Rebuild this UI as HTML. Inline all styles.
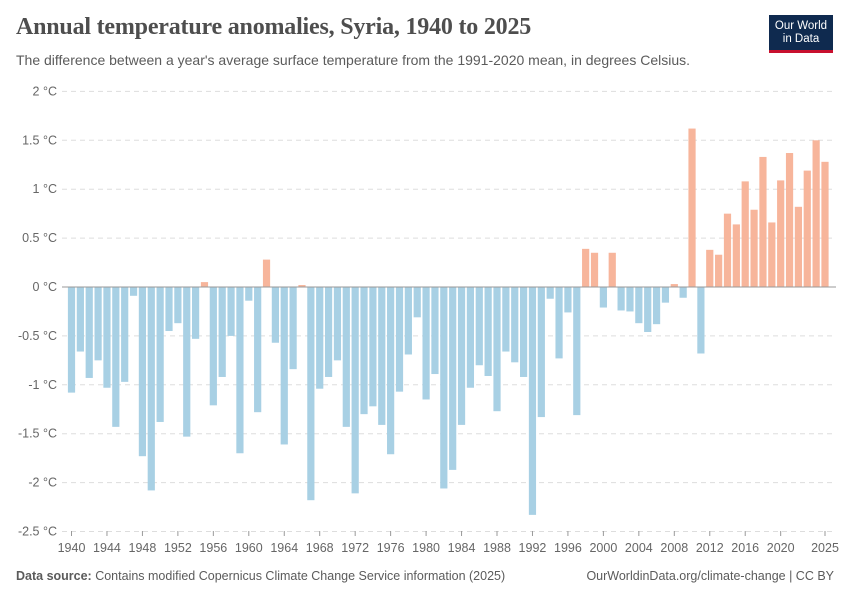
<!DOCTYPE html>
<html><head><meta charset="utf-8"><style>
body{margin:0;background:#fff;font-family:"Liberation Sans",sans-serif}
#wrap{position:relative;width:850px;height:600px}
h1{position:absolute;left:16px;top:14px;margin:0;font-family:"Liberation Serif",serif;font-weight:bold;font-size:24px;color:#4e4e4e;letter-spacing:-0.2px}
.sub{position:absolute;left:16px;top:52px;font-size:14px;color:#5b5b5b}
.logo{position:absolute;left:769px;top:15px;width:64px;height:38px;background:#0f2a4f;color:#fff;font-size:11.5px;text-align:center;line-height:13px;padding-top:5px;box-sizing:border-box;border-bottom:3px solid #c8102e}
.foot{position:absolute;top:569px;font-size:12.5px;color:#5b5b5b}
</style></head><body>
<div id="wrap">
<h1>Annual temperature anomalies, Syria, 1940 to 2025</h1>
<div class="sub">The difference between a year's average surface temperature from the 1991-2020 mean, in degrees Celsius.</div>
<div class="logo">Our World<br>in Data</div>
<svg id="svg" width="850" height="600" style="position:absolute;left:0;top:0"></svg>
<div class="foot" style="left:16px"><b>Data source:</b> Contains modified Copernicus Climate Change Service information (2025)</div>
<div class="foot" style="right:16px">OurWorldinData.org/climate-change | CC BY</div>
</div>
<script>
const years=[];for(let y=1940;y<=2025;y++)years.push(y);
const values=[-1.08,-0.66,-0.93,-0.75,-1.03,-1.43,-0.97,-0.09,-1.73,-2.08,-1.38,-0.45,-0.37,-1.53,-0.53,0.05,-1.21,-0.92,-0.50,-1.70,-0.14,-1.28,0.28,-0.57,-1.61,-0.84,0.02,-2.18,-1.04,-0.92,-0.75,-1.43,-2.11,-1.30,-1.22,-1.41,-1.71,-1.07,-0.69,-0.31,-1.15,-0.89,-2.06,-1.87,-1.41,-1.03,-0.80,-0.91,-1.27,-0.66,-0.77,-0.92,-2.33,-1.33,-0.12,-0.73,-0.26,-1.31,0.39,0.35,-0.21,0.35,-0.24,-0.25,-0.37,-0.46,-0.38,-0.16,0.03,-0.11,1.62,-0.68,0.38,0.33,0.75,0.64,1.08,0.79,1.33,0.66,1.09,1.37,0.82,1.19,1.50,1.28];
const yTicks=[2,1.5,1,0.5,0,-0.5,-1,-1.5,-2,-2.5];
const yTickLabels=["2 °C","1.5 °C","1 °C","0.5 °C","0 °C","-0.5 °C","-1 °C","-1.5 °C","-2 °C","-2.5 °C"];
const xTickYears=[1940,1944,1948,1952,1956,1960,1964,1968,1972,1976,1980,1984,1988,1992,1996,2000,2004,2008,2012,2016,2020,2025];
const svg=document.getElementById('svg');const NS='http://www.w3.org/2000/svg';
const X=y=>71.5+(y-1940)*(825-71.5)/85;
const Y=v=>287-v*97.8;
function mk(t,a){const e=document.createElementNS(NS,t);for(const k in a)e.setAttribute(k,a[k]);svg.appendChild(e);return e;}
yTicks.forEach((t,i)=>{
 if(t!==0){const l=mk('line',{x1:62,x2:836,y1:Y(t),y2:Y(t),stroke:'#ddd','stroke-dasharray':'5,4'});
 
 }
 const tx=mk('text',{x:57,y:Y(t)+4,'text-anchor':'end','font-size':'12.5',fill:'#666','font-family':'Liberation Sans'});
 tx.textContent=yTickLabels[i];
 
 
});
years.forEach((yr,i)=>{
 const v=values[i];const y0=Y(0),y1=Y(v);
 const r=mk('rect',{x:X(yr)-3.6,y:Math.min(y0,y1),width:7.2,height:Math.abs(y1-y0),fill:v<0?'#a8d0e4':'#f7b59b'});
 
 
});
xTickYears.forEach(yr=>{
  const tk=mk('line',{x1:X(yr),x2:X(yr),y1:531,y2:536,stroke:'#999'});
  
  
  const t=mk('text',{x:X(yr),y:552,'text-anchor':'middle','font-size':'12.5',fill:'#666','font-family':'Liberation Sans'});
  t.textContent=yr;
  
  
});
const z=mk('line',{x1:62,x2:836,y1:Y(0),y2:Y(0),stroke:'#999'});


</script>
</body></html>
